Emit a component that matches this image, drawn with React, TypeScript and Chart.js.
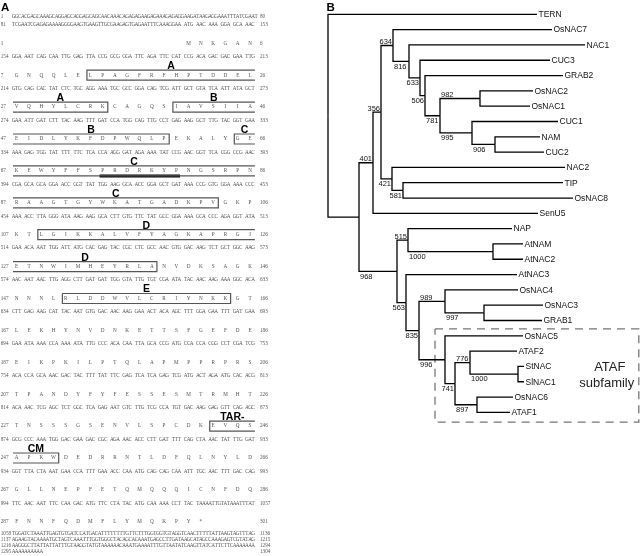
import React, { useEffect, useRef } from "react";
import { Chart, registerables } from "chart.js";
Chart.register(...registerables);

// ================= Panel A data =================
const HEADER_STARTS = [1, 81];
const HEADER_SEQS = [
  "GGCACGAGCA" + "AAGCAGGAGC" + "AGGAGCAGCA" + "ACAAACAGAG" + "AGAAGAGAAA" + "GAGAGGAAGA" + "TAAGAGGAAA" + "TTTATCGAAT",
  "TCGAATCGAG" + "AGAAAAGGGG" + "AAGTGAAGTT" + "GCGAAGAGTG" + "AGAATTTCAA" + "AGGAA" + " ATG AAC AAA GGA GCA AAC",
];
const HEADER_ENDS = [80, 153];

const PROT_STARTS = [1, 7, 27, 47, 67, 87, 107, 127, 147, 167, 187, 207, 227, 247, 267, 287];
const PROT_SEQS = [
  "              MNKGAN",
  "GNQQLELPAGFRFHPTDDEL",
  "VQHYLCRKCAGQSIAVSIIA",
  "EIDLYKFDPWQLPEKALYGE",
  "KEWYFFSPRDRKYPNGSRPN",
  "RAAGTGYWKATGADKPVGKP",
  "KTLGIKKALVFYAGKAPRGI",
  "ETNWIMHEYRLANVDKSAGK",
  "NNNLRLDDWVLCRIYNKKGT",
  "LEKHYNVDNKETTSFGEFDE",
  "EIKPKILPTQLAPMPPRPRS",
  "TPANDYFYFESSESMTRMHT",
  "TNSSSGSENVLSPCDKEVQS",
  "APKWDEDRRNTLDFQLNYLD",
  "GLLNEPFETQMQQQICNFDQ",
  "FNNFQDMFLYMQKPY*",
];
const PROT_ENDS = [6, 26, 46, 66, 86, 106, 126, 146, 166, 186, 206, 226, 246, 266, 286, 301];

const DNA_STARTS = [154, 214, 274, 334, 394, 454, 514, 574, 634, 694, 754, 814, 874, 934, 994];
const DNA_SEQS = [
  "GGA AAT CAG CAA TTG GAG TTA CCG GCG GGA TTC AGA TTC CAT CCG ACA GAC GAC GAA TTG",
  "GTG CAG CAC TAT CTC TGC AGG AAA TGC GCC GGA CAG TCG ATT GCT GTA TCA ATT ATA GCT",
  "GAA ATT GAT CTT TAC AAG TTT GAT CCA TGG CAG TTG CCT GAG AAG GCT TTG TAC GGT GAA",
  "AAA GAG TGG TAT TTT TTC TCA CCA AGG GAT AGA AAA TAT CCG AAC GGT TCA CGG CCG AAC",
  "CGA GCA GCA GGA ACC GGT TAT TGG AAG GCA ACC GGA GCT GAT AAA CCG GTG GGA AAA CCC",
  "AAA ACC TTA GGG ATA AAG AAG GCA CTT GTG TTC TAT GCC GGA AAA GCA CCC AGA GGT ATA",
  "GAA ACA AAT TGG ATT ATG CAC GAG TAC CGC CTC GCC AAC GTG GAC AAG TCT GCT GGC AAG",
  "AAC AAT AAC TTG AGG CTT GAT GAT TGG GTA TTG TGT CGA ATA TAC AAC AAG AAA GGC ACA",
  "CTT GAG AAG CAT TAC AAT GTG GAC AAC AAG GAA ACT ACA AGC TTT GGA GAA TTT GAT GAA",
  "GAA ATA AAA CCA AAA ATA TTG CCC ACA CAA TTA GCA CCG ATG CCA CCA CGG CCT CGA TCG",
  "ACA CCA GCA AAC GAC TAC TTT TAT TTC GAG TCA TCA GAG TCG ATG ACT AGA ATG CAC ACG",
  "ACA AAC TCG AGC TCT GGC TCA GAG AAT GTC TTG TCG CCA TGT GAC AAG GAG GTT CAG AGC",
  "GCG CCC AAA TGG GAC GAA GAC CGC AGA AAC ACC CTT GAT TTT CAG CTA AAC TAT TTG GAT",
  "GGT TTA CTA AAT GAA CCA TTT GAA ACC CAA ATG CAG CAG CAA ATT TGC AAC TTT GAC CAG",
  "TTC AAC AAT TTC CAA GAC ATG TTC CTA TAC ATG CAA AAA CCT TAC TAAAATTGTATAAATTTAT",
];
const DNA_ENDS = [213, 273, 333, 393, 453, 513, 573, 633, 693, 753, 813, 873, 933, 993, 1057];

const TAIL_STARTS = [1058, 1137, 1216, 1295];
const TAIL_SEQS = [
  "TGGATCTAAA" + "TTGAGTGTGA" + "TCCATGACAT" + "TTTTTTTGTT" + "CTTTGGTGGT" + "GTAGGTCAAC" + "TTTTTATTAA" + "GTAGTTTAG",
  "AGAAGTACAA" + "AATGCTAGTC" + "AAATTTGGTG" + "GGCTACAGCA" + "CAAATGAGCC" + "TTGATAAGCA" + "TAGCCAAAGA" + "GTCGTATAG",
  "AAGGGCTTAT" + "TATTATTTGT" + "AAGGTATGTA" + "AAAAACAAAT" + "GAAAATTTGT" + "TAATATCAAG" + "TTATCATTCT" + "TCAAAAAAA",
  "AAAAAAAAAA",
];
const TAIL_ENDS = [1136, 1215, 1294, 1304];

// motif boxes (protein row index, first/last residue column)
const MOTIF_ROWS = [1, 2, 2, 3, 3, 4, 5, 6, 7, 8, 12, 13];
const MOTIF_FIRST = [6, 0, 13, 0, 18, 0, 0, 2, 0, 4, 16, 0];
const MOTIF_LAST = [19, 7, 19, 12, 19, 19, 16, 19, 11, 17, 19, 3];
const MOTIF_OPEN_LEFT = [false, true, false, true, false, true, true, false, true, false, false, true];
const MOTIF_OPEN_RIGHT = [true, false, true, false, true, true, false, true, false, false, true, false];
const MOTIF_LABELS = ["A", "A", "B", "B", "C", "C", "C", "D", "D", "E", "TAR-", "CM"];
const UNDERLINE_ROW = 4;
const UNDERLINE_FIRST = 7;
const UNDERLINE_LAST = 13;

// ================= Panel B data =================
const NODE_PARENT = [-1, 0, 1, 2, 3, 4, 5, 6, 7, 8, 8, 10, 3, 12, 1, 14, 15, 14, 17, 18, 19, 18, 21, 22, 23, 22];
const NODE_DIST = [0, 31, 45, 53, 65, 81, 92, 97, 112, 152, 144, 167, 64, 75, 69, 80, 165, 78, 91, 117, 156, 117, 127, 142, 190, 149];
const NODE_SUPPORT = ["", "", "401", "356", "634", "816", "633", "506", "781", "982", "995", "906", "421", "581", "968", "515", "1000", "563", "835", "989", "997", "996", "741", "776", "1000", "897"];
const LEAF_NAMES = ["TERN", "OsNAC7", "NAC1", "CUC3", "GRAB2", "OsNAC2", "OsNAC1", "CUC1", "NAM", "CUC2", "NAC2", "TIP", "OsNAC8", "SenU5", "NAP", "AtNAM", "AtNAC2", "AtNAC3", "OsNAC4", "OsNAC3", "GRAB1", "OsNAC5", "ATAF2", "StNAC", "SlNAC1", "OsNAC6", "ATAF1"];
const LEAF_DIST = [209, 224, 257, 222, 235, 205, 202, 230, 212, 216, 237, 235, 245, 210, 184, 195, 195, 189, 190, 215, 214, 195, 189, 196, 196, 185, 182];
const LEAF_PARENT = [0, 4, 5, 6, 7, 9, 9, 10, 11, 11, 12, 13, 13, 2, 15, 16, 16, 17, 19, 20, 20, 21, 23, 24, 24, 25, 25];
const SUBFAMILY_FIRST = "OsNAC5";
const SUBFAMILY_LAST = "ATAF1";
const SUBFAMILY_TEXT = ["ATAF", "subfamily"];

// ================= layout (scales) =================
const A_X = { min: -1.36, max: 24.7 };
const A_Y = { min: -1.777, max: 15.652 };
const B_X = { min: -8, max: 312 };
const B_Y = { min: -0.934, max: 35.38 };
const PROT_OFF = -0.42;
const BOX_HALF = 0.157;
const HEADER_Y = [-1.25, -1.02];
const TAIL_Y0 = 14.96;
const TAIL_STEP = 0.185;
const SEQ_FONT = "5.2px 'Liberation Serif', 'Times New Roman', serif";
const NUM_FONT = "5.2px 'Liberation Serif', 'Times New Roman', serif";
const SEQ_COLOR = "#555";

function baseOptions(xr: any, yr: any) {
  return {
    responsive: false,
    devicePixelRatio: 1,
    animation: false as const,
    events: [],
    layout: { padding: 0 },
    scales: {
      x: { type: "linear" as const, min: xr.min, max: xr.max, display: false },
      y: { type: "linear" as const, min: yr.min, max: yr.max, reverse: true, display: false },
    },
    plugins: { legend: { display: false }, tooltip: { enabled: false }, title: { display: false } },
  };
}

function lineDs(points: { x: number; y: number }[], color: string, width: number, dash?: number[]) {
  return {
    data: points,
    showLine: true,
    borderColor: color,
    backgroundColor: color,
    borderWidth: width,
    borderDash: dash || [],
    borderJoinStyle: "miter" as const,
    borderCapStyle: "butt" as const,
    pointRadius: 0,
    fill: false,
    tension: 0,
    clip: false as any,
  };
}

function makeChartA(canvas: HTMLCanvasElement) {
  const datasets: any[] = [];
  for (let m = 0; m < MOTIF_ROWS.length; m++) {
    const yv = MOTIF_ROWS[m] + PROT_OFF;
    const top = yv - BOX_HALF;
    const bot = yv + BOX_HALF;
    const L = MOTIF_OPEN_LEFT[m] ? -0.3 : MOTIF_FIRST[m] - 0.28;
    const R = MOTIF_OPEN_RIGHT[m] ? 19.4 : MOTIF_LAST[m] + 0.42;
    const polys: { x: number; y: number }[][] = [];
    if (!MOTIF_OPEN_LEFT[m] && !MOTIF_OPEN_RIGHT[m]) {
      polys.push([{ x: L, y: top }, { x: R, y: top }, { x: R, y: bot }, { x: L, y: bot }, { x: L, y: top }]);
    } else if (MOTIF_OPEN_LEFT[m] && MOTIF_OPEN_RIGHT[m]) {
      polys.push([{ x: L, y: top }, { x: R, y: top }]);
      polys.push([{ x: L, y: bot }, { x: R, y: bot }]);
    } else if (MOTIF_OPEN_LEFT[m]) {
      polys.push([{ x: L, y: top }, { x: R, y: top }, { x: R, y: bot }, { x: L, y: bot }]);
    } else {
      polys.push([{ x: R, y: top }, { x: L, y: top }, { x: L, y: bot }, { x: R, y: bot }]);
    }
    polys.forEach((p) => datasets.push(lineDs(p, "#555", 1.2)));
  }
  const uy = UNDERLINE_ROW + PROT_OFF + BOX_HALF;
  datasets.push(lineDs([{ x: UNDERLINE_FIRST - 0.25, y: uy }, { x: UNDERLINE_LAST + 0.3, y: uy }], "#000", 3));

  const textPlugin = {
    id: "seqText",
    afterDatasetsDraw(chart: any) {
      const ctx = chart.ctx as CanvasRenderingContext2D;
      const xs = chart.scales.x;
      const ys = chart.scales.y;
      ctx.save();
      ctx.fillStyle = SEQ_COLOR;
      ctx.textBaseline = "middle";
      const leftX = xs.getPixelForValue(-1.3);
      const rightX = xs.getPixelForValue(19.81);
      const drawLine = (start: number, s: string, end: number, v: number) => {
        const py = ys.getPixelForValue(v);
        ctx.font = NUM_FONT;
        ctx.textAlign = "left";
        ctx.fillText(String(start), leftX, py);
        ctx.fillText(String(end), rightX, py);
        ctx.font = SEQ_FONT;
        ctx.textAlign = "center";
        for (let i = 0; i < s.length; i++) {
          const ch = s[i];
          if (ch === " ") continue;
          ctx.fillText(ch, xs.getPixelForValue(-0.25 + 0.25 * i), py);
        }
      };
      HEADER_SEQS.forEach((s, i) => drawLine(HEADER_STARTS[i], s, HEADER_ENDS[i], HEADER_Y[i]));
      PROT_SEQS.forEach((s, b) => {
        const spaced = s.split("").map((r) => " " + r + "  ").join("");
        drawLine(PROT_STARTS[b], spaced, PROT_ENDS[b], b + PROT_OFF);
      });
      DNA_SEQS.forEach((s, b) => drawLine(DNA_STARTS[b], s, DNA_ENDS[b], b));
      TAIL_SEQS.forEach((s, j) => drawLine(TAIL_STARTS[j], s, TAIL_ENDS[j], TAIL_Y0 + TAIL_STEP * j));

      // motif labels
      ctx.fillStyle = "#000";
      ctx.font = "bold 10.5px 'Liberation Sans', Arial, sans-serif";
      ctx.textAlign = "center";
      ctx.textBaseline = "alphabetic";
      for (let m = 0; m < MOTIF_ROWS.length; m++) {
        const L = MOTIF_OPEN_LEFT[m] ? -0.3 : MOTIF_FIRST[m] - 0.28;
        const R = MOTIF_OPEN_RIGHT[m] ? 19.4 : MOTIF_LAST[m] + 0.42;
        const cx = (xs.getPixelForValue(L) + xs.getPixelForValue(R)) / 2;
        const top = ys.getPixelForValue(MOTIF_ROWS[m] + PROT_OFF - BOX_HALF);
        ctx.fillText(MOTIF_LABELS[m], cx, top - 1);
      }
      // panel letter
      ctx.font = "bold 11.5px 'Liberation Sans', Arial, sans-serif";
      ctx.textAlign = "left";
      ctx.fillText("A", 1, 10.5);
      ctx.restore();
    },
  };

  return new Chart(canvas, {
    type: "scatter",
    data: { datasets },
    options: baseOptions(A_X, A_Y) as any,
    plugins: [textPlugin],
  });
}

function makeChartB(canvas: HTMLCanvasElement) {
  const nInt = NODE_PARENT.length;
  const ny: number[] = new Array(nInt).fill(0);
  const children: { y: number }[][] = [];
  for (let i = 0; i < nInt; i++) children.push([]);
  LEAF_PARENT.forEach((p, i) => children[p].push({ y: i }));
  for (let i = nInt - 1; i >= 0; i--) {
    const ys = children[i].map((c) => c.y);
    ny[i] = (Math.min(...ys) + Math.max(...ys)) / 2;
    if (NODE_PARENT[i] >= 0) children[NODE_PARENT[i]].push({ y: ny[i] });
  }
  const datasets: any[] = [];
  for (let i = 1; i < nInt; i++) {
    const p = NODE_PARENT[i];
    datasets.push(lineDs([{ x: NODE_DIST[p], y: ny[p] }, { x: NODE_DIST[p], y: ny[i] }, { x: NODE_DIST[i], y: ny[i] }], "#000", 1.3));
  }
  LEAF_PARENT.forEach((p, i) => {
    datasets.push(lineDs([{ x: NODE_DIST[p], y: ny[p] }, { x: NODE_DIST[p], y: i }, { x: LEAF_DIST[i], y: i }], "#000", 1.3));
  });
  // subfamily dashed box
  const fi = LEAF_NAMES.indexOf(SUBFAMILY_FIRST);
  const li = LEAF_NAMES.indexOf(SUBFAMILY_LAST);
  const anc = LEAF_PARENT[fi];
  const bx0 = NODE_DIST[anc] - 10;
  const bx1 = B_X.max - 1.2;
  const by0 = fi - 0.45;
  const by1 = li + 0.63;
  datasets.push(
    lineDs([{ x: bx0, y: by0 }, { x: bx1, y: by0 }, { x: bx1, y: by1 }, { x: bx0, y: by1 }, { x: bx0, y: by0 }], "#777", 1.3, [8, 6])
  );

  const labelPlugin = {
    id: "treeLabels",
    afterDatasetsDraw(chart: any) {
      const ctx = chart.ctx as CanvasRenderingContext2D;
      const xs = chart.scales.x;
      const ysc = chart.scales.y;
      ctx.save();
      ctx.fillStyle = "#111";
      ctx.font = "8.5px 'Liberation Sans', Arial, sans-serif";
      ctx.textAlign = "left";
      ctx.textBaseline = "middle";
      LEAF_NAMES.forEach((n, i) => {
        ctx.fillText(n, xs.getPixelForValue(LEAF_DIST[i]) + 1.5, ysc.getPixelForValue(i) + 0.5);
      });
      ctx.font = "7.5px 'Liberation Sans', Arial, sans-serif";
      for (let i = 1; i < nInt; i++) {
        const s = NODE_SUPPORT[i];
        if (!s) continue;
        const p = NODE_PARENT[i];
        const w = ctx.measureText(s).width;
        const px = xs.getPixelForValue(NODE_DIST[p]);
        const nx = xs.getPixelForValue(NODE_DIST[i]);
        const left = Math.min(px + 1, nx - 1 - w);
        const y = ysc.getPixelForValue(ny[i]);
        if (ny[i] < ny[p]) {
          ctx.textBaseline = "alphabetic";
          ctx.fillText(s, left, y - 1.5);
        } else {
          ctx.textBaseline = "top";
          ctx.fillText(s, left, y + 1.5);
        }
      }
      // subfamily text
      ctx.fillStyle = "#222";
      ctx.font = "13px 'Liberation Sans', Arial, sans-serif";
      ctx.textAlign = "center";
      ctx.textBaseline = "middle";
      const cx = xs.getPixelForValue(bx1) - 32;
      const cy = (by0 + by1) / 2;
      ctx.fillText(SUBFAMILY_TEXT[0], cx + 3, ysc.getPixelForValue(cy - 0.55));
      ctx.fillText(SUBFAMILY_TEXT[1], cx, ysc.getPixelForValue(cy + 0.55));
      // panel letter
      ctx.fillStyle = "#000";
      ctx.font = "bold 11.5px 'Liberation Sans', Arial, sans-serif";
      ctx.textAlign = "left";
      ctx.textBaseline = "alphabetic";
      ctx.fillText("B", 6.5, 10.5);
      ctx.restore();
    },
  };

  return new Chart(canvas, {
    type: "scatter",
    data: { datasets },
    options: baseOptions(B_X, B_Y) as any,
    plugins: [labelPlugin],
  });
}

export default function App() {
  const refA = useRef<HTMLCanvasElement>(null);
  const refB = useRef<HTMLCanvasElement>(null);
  useEffect(() => {
    const a = makeChartA(refA.current!);
    const b = makeChartB(refB.current!);
    return () => {
      a.destroy();
      b.destroy();
    };
  }, []);
  return (
    <div style={{ position: "fixed", left: 0, top: 0, width: 640, height: 556, background: "#fff" }}>
      <canvas ref={refA} width={320} height={556} style={{ position: "absolute", left: 0, top: 0, width: 320, height: 556 }} />
      <canvas ref={refB} width={320} height={556} style={{ position: "absolute", left: 320, top: 0, width: 320, height: 556 }} />
    </div>
  );
}
